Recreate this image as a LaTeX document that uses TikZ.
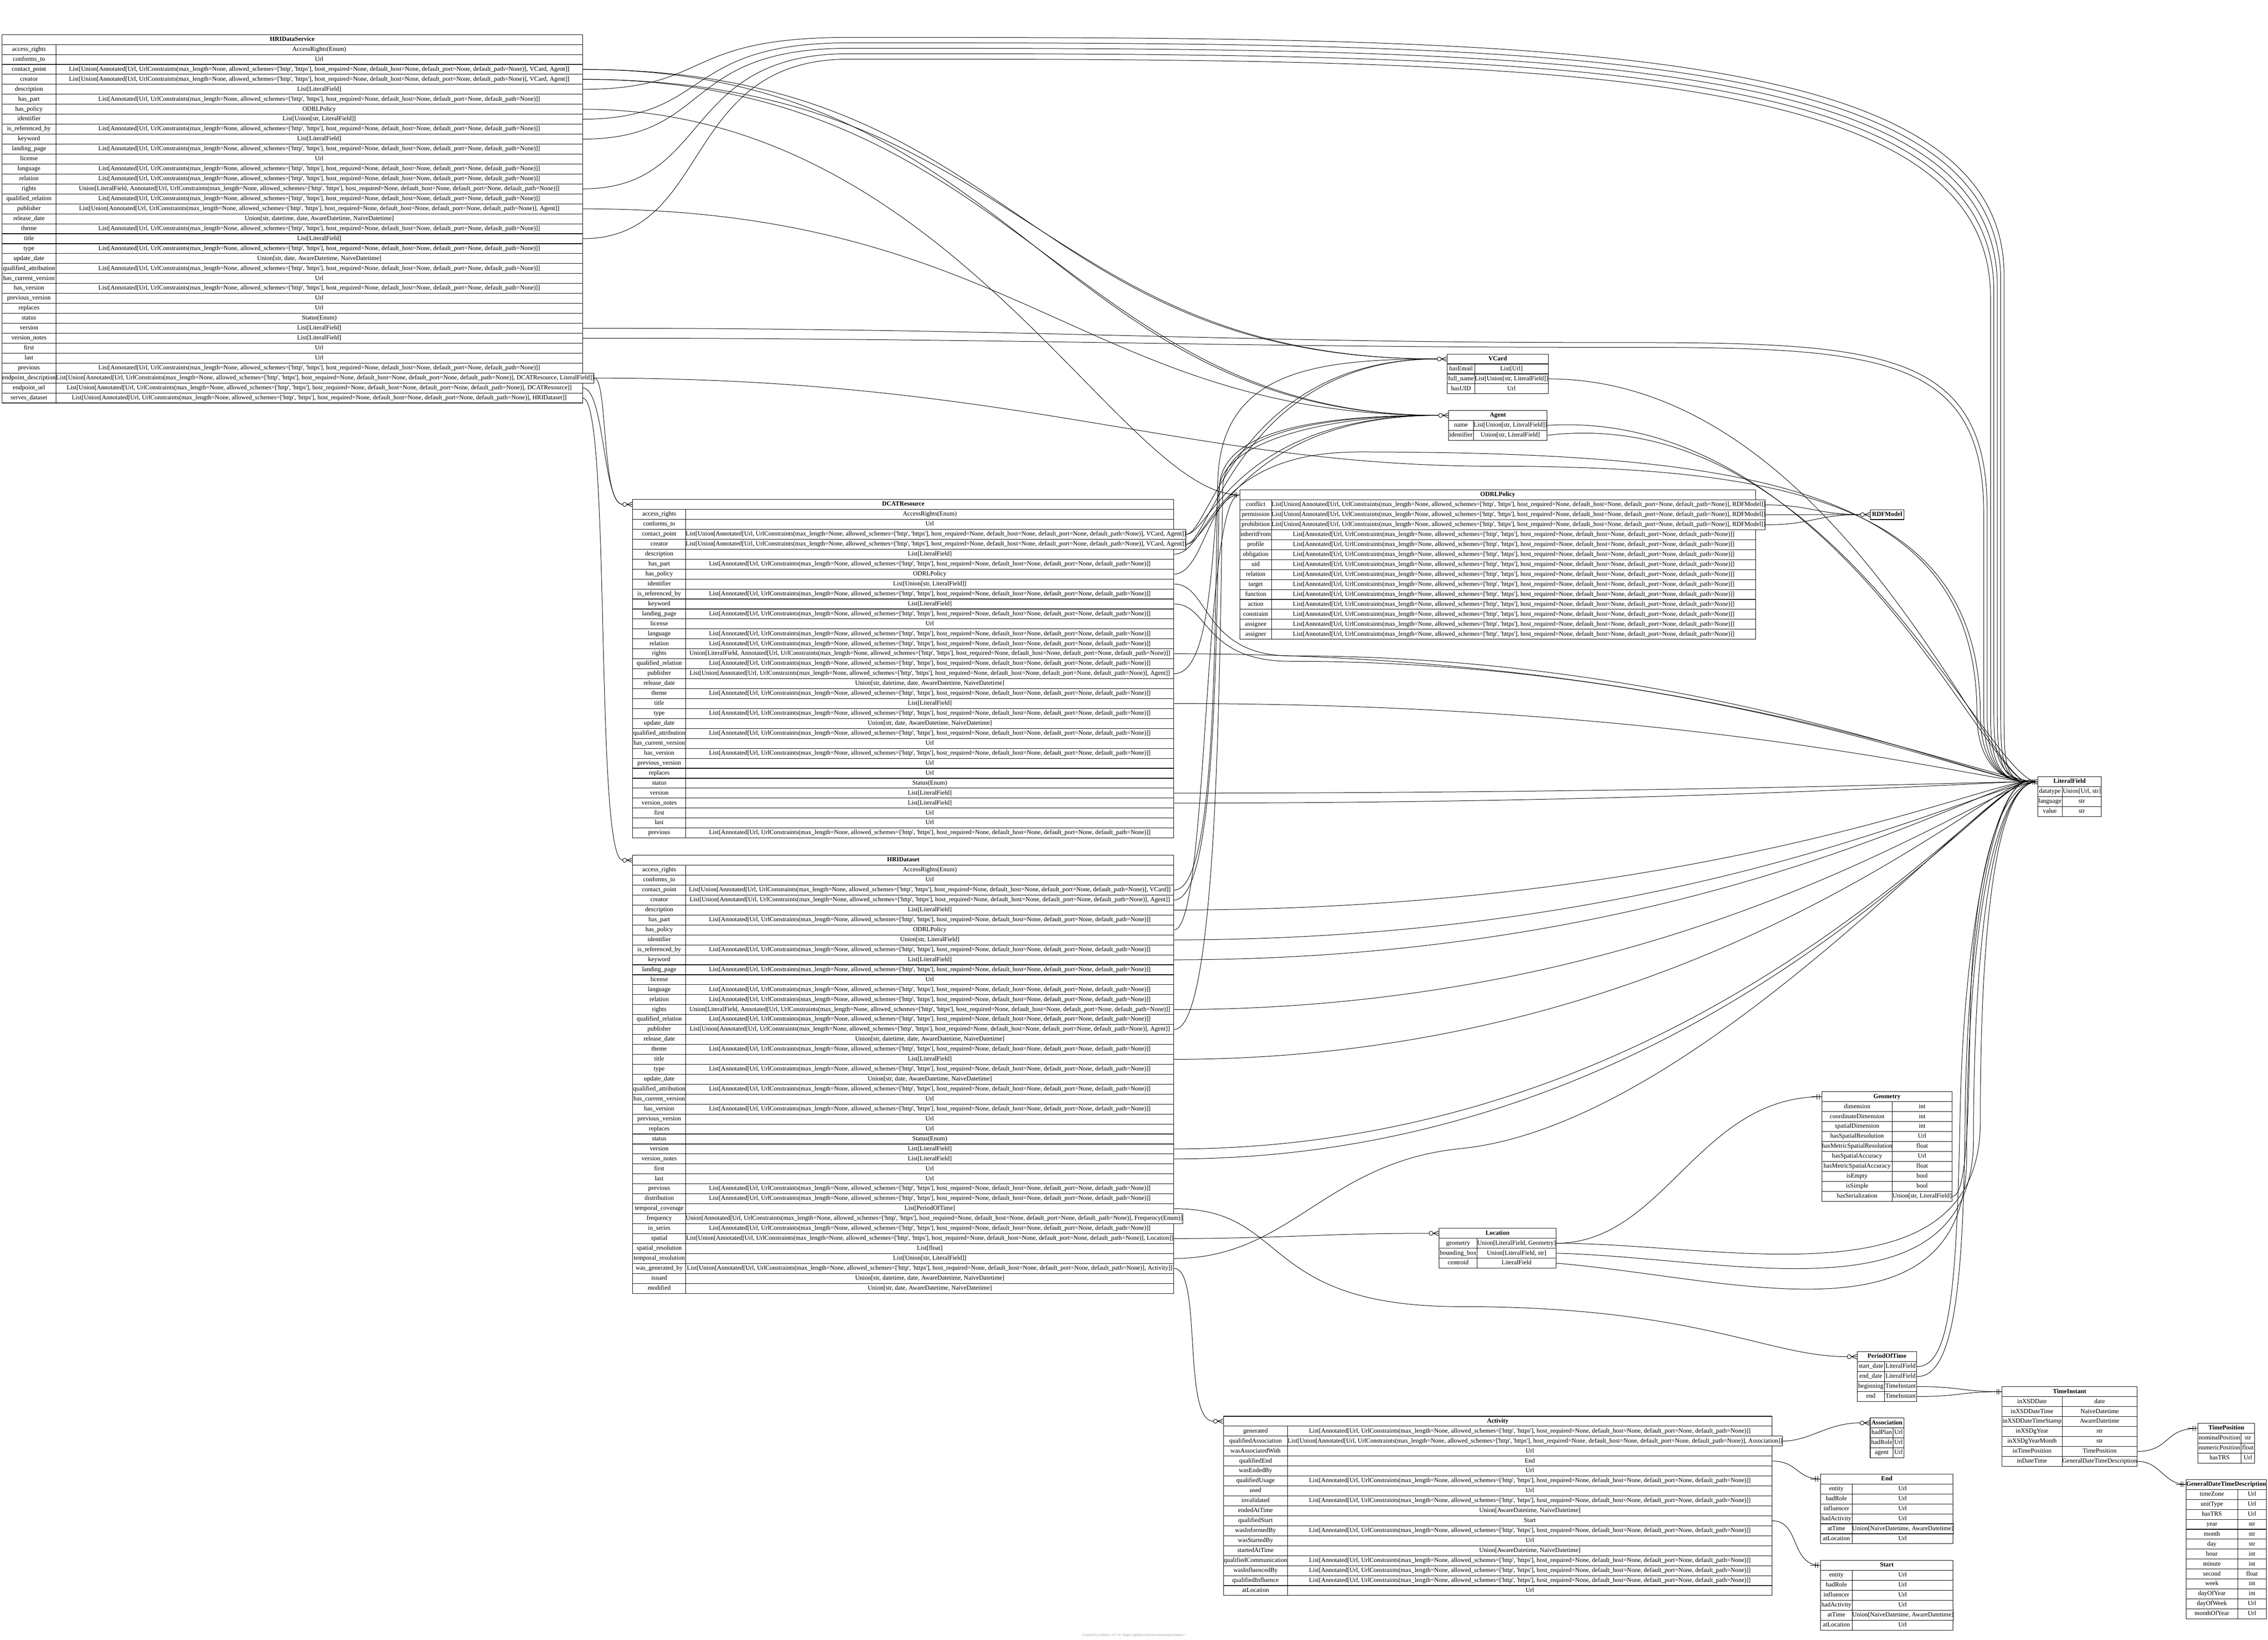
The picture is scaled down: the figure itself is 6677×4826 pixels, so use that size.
\documentclass[tikz,border=0pt]{standalone}
\usepackage{fontspec}
\setmainfont{Liberation Serif}
\pgfdeclarelayer{background}
\pgfsetlayers{background,main}

\newcommand\urlc{Annotated[Url, UrlConstraints(max\_length=None, allowed\_schemes=[\textquotesingle http\textquotesingle, \textquotesingle https\textquotesingle], host\_required=None, default\_host=None, default\_port=None, default\_path=None)]}

\newcommand\mktable[6]{%
  \def\tN{#1}\def\tL{#2}\def\tD{#3}\def\tR{#4}\def\tT{#5}%
  \pgfmathsetmacro\tW{(#4-#2)*0.75}%
  \node[hdr, minimum width=\tW pt, anchor=north west] (#1) at (#2,#5) {#6};}
\newcommand\tabrows[2]{%
  \pgfmathsetmacro\kW{(\tD-\tL)*0.75}%
  \pgfmathsetmacro\vW{(\tR-\tD)*0.75}%
  \foreach \k/\v [count=\i from #1] in #2 {%
    \pgfmathsetmacro\yy{\tT+\i*29.3}%
    \node[cell, minimum width=\kW pt, anchor=north west] (\tN-k\i) at (\tL,\yy) {\k};%
    \node[cell, minimum width=\vW pt, anchor=north west] (\tN-\i) at (\tD,\yy) {\v};}}

\def\grpA{access\_rights/{AccessRights(Enum)}, conforms\_to/{Url}}
\def\grpBa{contact\_point/{List[Union[\urlc, VCard, Agent]]}, creator/{List[Union[\urlc, VCard, Agent]]}}
\def\grpBb{contact\_point/{List[Union[\urlc, VCard]]}, creator/{List[Union[\urlc, Agent]]}}
\def\grpC{description/{List[LiteralField]}, has\_part/{List[\urlc]}, has\_policy/{ODRLPolicy}}
\def\grpDa{identifier/{List[Union[str, LiteralField]]}}
\def\grpDb{identifier/{Union[str, LiteralField]}}
\def\grpE{is\_referenced\_by/{List[\urlc]}, keyword/{List[LiteralField]}, landing\_page/{List[\urlc]}, license/{Url}, language/{List[\urlc]}, relation/{List[\urlc]}, rights/{Union[LiteralField, \urlc]}, qualified\_relation/{List[\urlc]}}
\def\grpF{publisher/{List[Union[\urlc, Agent]]}, release\_date/{Union[str, datetime, date, AwareDatetime, NaiveDatetime]}, theme/{List[\urlc]}, title/{List[LiteralField]}, type/{List[\urlc]}, update\_date/{Union[str, date, AwareDatetime, NaiveDatetime]}, qualified\_attribution/{List[\urlc]}, has\_current\_version/{Url}, has\_version/{List[\urlc]}, previous\_version/{Url}, replaces/{Url}, status/{Status(Enum)}, version/{List[LiteralField]}, version\_notes/{List[LiteralField]}, first/{Url}, last/{Url}, previous/{List[\urlc]}}
\def\grpG{endpoint\_description/{List[Union[\urlc, DCATResource, LiteralField]]}, endpoint\_url/{List[Union[\urlc, DCATResource]]}, serves\_dataset/{List[Union[\urlc, HRIDataset]]}}
\def\grpH{distribution/{List[\urlc]}, temporal\_coverage/{List[PeriodOfTime]}, frequency/{Union[\urlc, Frequency(Enum)]}, in\_series/{List[\urlc]}, spatial/{List[Union[\urlc, Location]]}, spatial\_resolution/{List[float]}, temporal\_resolution/{List[Union[str, LiteralField]]}, was\_generated\_by/{List[Union[\urlc, Activity]]}, issued/{Union[str, datetime, date, AwareDatetime, NaiveDatetime]}, modified/{Union[str, date, AwareDatetime, NaiveDatetime]}}
\def\odrlrows{conflict/{List[Union[\urlc, RDFModel]]}, permission/{List[Union[\urlc, RDFModel]]}, prohibition/{List[Union[\urlc, RDFModel]]}, inheritFrom/{List[\urlc]}, profile/{List[\urlc]}, obligation/{List[\urlc]}, uid/{List[\urlc]}, relation/{List[\urlc]}, target/{List[\urlc]}, function/{List[\urlc]}, action/{List[\urlc]}, constraint/{List[\urlc]}, assignee/{List[\urlc]}, assigner/{List[\urlc]}}
\def\vcardrows{hasEmail/{List[Url]}, full\_name/{List[Union[str, LiteralField]]}, hasUID/{Url}}
\def\agentrows{name/{List[Union[str, LiteralField]]}, identifier/{Union[str, LiteralField]}}
\def\lfrows{datatype/{Union[Url, str]}, language/{str}, value/{str}}
\def\geomrows{dimension/{int}, coordinateDimension/{int}, spatialDimension/{int}, hasSpatialResolution/{Url}, hasMetricSpatialResolution/{float}, hasSpatialAccuracy/{Url}, hasMetricSpatialAccuracy/{float}, isEmpty/{bool}, isSimple/{bool}, hasSerialization/{Union[str, LiteralField]}}
\def\locrows{geometry/{Union[LiteralField, Geometry]}, bounding\_box/{Union[LiteralField, str]}, centroid/{LiteralField}}
\def\potrows{start\_date/{LiteralField}, end\_date/{LiteralField}, beginning/{TimeInstant}, end/{TimeInstant}}
\def\tirows{inXSDDate/{date}, inXSDDateTime/{NaiveDatetime}, inXSDDateTimeStamp/{AwareDatetime}, inXSDgYear/{str}, inXSDgYearMonth/{str}, inTimePosition/{TimePosition}, inDateTime/{GeneralDateTimeDescription}}
\def\tprows{nominalPosition/{str}, numericPosition/{float}, hasTRS/{Url}}
\def\gdtdrows{timeZone/{Url}, unitType/{Url}, hasTRS/{Url}, year/{str}, month/{str}, day/{str}, hour/{int}, minute/{int}, second/{float}, week/{int}, dayOfYear/{int}, dayOfWeek/{Url}, monthOfYear/{Url}}
\def\actrows{generated/{List[\urlc]}, qualifiedAssociation/{List[Union[\urlc, Association]]}, wasAssociatedWith/{Url}, qualifiedEnd/{End}, wasEndedBy/{Url}, qualifiedUsage/{List[\urlc]}, used/{Url}, invalidated/{List[\urlc]}, endedAtTime/{Union[AwareDatetime, NaiveDatetime]}, qualifiedStart/{Start}, wasInformedBy/{List[\urlc]}, wasStartedBy/{Url}, startedAtTime/{Union[AwareDatetime, NaiveDatetime]}, qualifiedCommunication/{List[\urlc]}, wasInfluencedBy/{List[\urlc]}, qualifiedInfluence/{List[\urlc]}, atLocation/{Url}}
\def\assocrows{hadPlan/{Url}, hadRole/{Url}, agent/{Url}}
\def\inflrows{entity/{Url}, hadRole/{Url}, influencer/{Url}, hadActivity/{Url}, atTime/{Union[NaiveDatetime, AwareDatetime]}, atLocation/{Url}}

\tikzset{
  cell/.style={draw, line width=1.1pt, fill=white, inner sep=0pt, minimum height=21.975pt,
    text height=9.6pt, text depth=3pt, font=\fontsize{14}{16}\selectfont},
  hdr/.style={cell, font=\fontsize{14}{16}\selectfont\bfseries},
  conn/.style={line width=1pt},
  tomany/.style={shorten >=21.75pt},
  mk/.style={line width=1pt},
  many/.pic={\draw[mk] (-23,0) circle[radius=6];
             \draw[mk] (-17,0) -- (0,0) (-17,0) -- (0,-7) (-17,0) -- (0,7);},
  one/.pic={\draw[mk] (-29,0) -- (0,0) (-8,-8) -- (-8,8) (-14,-8) -- (-14,8);}
}

\begin{document}
\begin{tikzpicture}[x=0.75pt, y=-0.75pt]
\useasboundingbox (0,0) rectangle (6677,4826);

% ---------------- tables ----------------
\mktable{hds}{5}{164}{1714}{101}{HRIDataService}
\tabrows{1}{\grpA}\tabrows{3}{\grpBa}\tabrows{5}{\grpC}\tabrows{8}{\grpDa}
\tabrows{9}{\grpE}\tabrows{17}{\grpF}\tabrows{34}{\grpG}

\mktable{dcat}{1862}{2018}{3455}{1469}{DCATResource}
\tabrows{1}{\grpA}\tabrows{3}{\grpBa}\tabrows{5}{\grpC}\tabrows{8}{\grpDa}
\tabrows{9}{\grpE}\tabrows{17}{\grpF}

\mktable{hrid}{1862}{2018}{3455}{2516}{HRIDataset}
\tabrows{1}{\grpA}\tabrows{3}{\grpBb}\tabrows{5}{\grpC}\tabrows{8}{\grpDb}
\tabrows{9}{\grpE}\tabrows{17}{\grpF}\tabrows{34}{\grpH}

\mktable{vcard}{4260}{4341}{4557}{1041}{VCard}\tabrows{1}{\vcardrows}
\mktable{agent}{4264}{4337}{4554}{1207}{Agent}\tabrows{1}{\agentrows}
\mktable{odrl}{3649}{3743}{5168}{1441}{ODRLPolicy}\tabrows{1}{\odrlrows}
\mktable{rdf}{5506}{5555}{5604}{1499}{RDFModel}
\mktable{lf}{5998}{6070}{6186}{2285}{LiteralField}\tabrows{1}{\lfrows}
\mktable{geom}{5363}{5570}{5746}{3212}{Geometry}\tabrows{1}{\geomrows}
\mktable{loc}{4236}{4348}{4580}{3614}{Location}\tabrows{1}{\locrows}
\mktable{pot}{5467}{5547}{5642}{3977}{PeriodOfTime}\tabrows{1}{\potrows}
\mktable{ti}{5893}{6070}{6291}{4080}{TimeInstant}\tabrows{1}{\tirows}
\mktable{tp}{6470}{6597}{6637}{4188}{TimePosition}\tabrows{1}{\tprows}
\mktable{gdtd}{6435}{6587}{6671}{4353}{GeneralDateTimeDescription}\tabrows{1}{\gdtdrows}
\mktable{act}{3601}{3790}{5216}{4167}{Activity}\tabrows{1}{\actrows}
\mktable{assoc}{5505}{5573}{5604}{4172}{Association}\tabrows{1}{\assocrows}
\mktable{endt}{5359}{5452}{5749}{4337}{End}\tabrows{1}{\inflrows}
\mktable{startt}{5359}{5452}{5749}{4591}{Start}\tabrows{1}{\inflrows}

\node[font=\fontsize{8}{10}\selectfont, text=black!40, inner sep=0pt] (credit) at (3338,4812)
  {Created by erdantic v0.7.0 <https://github.com/drivendataorg/erdantic>};

% ---------------- connectors ----------------
\begin{pgfonlayer}{background}
\fill[white] (0,0) rectangle (6677,4826);

% HRIDataService
\draw[conn,tomany] (hds-3.east) .. controls (3000,204) and (3000,1056) .. (vcard.west);
\draw[conn,tomany] (hds-4.east) .. controls (3000,233) and (3050,1056) .. (vcard.west);
\draw[conn,tomany] (hds-3.east) .. controls (3000,204) and (3100,1222) .. (agent.west);
\draw[conn,tomany] (hds-4.east) .. controls (3000,233) and (3150,1222) .. (agent.west);
\draw[conn,tomany] (hds-17.east) .. controls (3000,614) and (3200,1222) .. (agent.west);
\draw[conn] (hds-7.east) .. controls (2800,321) and (3300,1456) .. (odrl.west);
\draw[conn,tomany] (hds-34.east) .. controls (1790,1112) and (1770,1484) .. (dcat.west);
\draw[conn,tomany] (hds-35.east) .. controls (1780,1141) and (1775,1484) .. (dcat.west);
\draw[conn,tomany] (hds-36.east) .. controls (1800,1171) and (1750,2531) .. (hrid.west);
\draw[conn,tomany] (hds-5.east) .. controls (2100,262) and (2000,110) .. (2500,110) .. controls (4500,110) and (5900,110) .. (5900,810) -- (5900,2100) .. controls (5900,2230) and (5900,2300) .. (lf.west);
\draw[conn,tomany] (hds-8.east) .. controls (2100,350) and (2000,126) .. (2500,126) .. controls (4500,126) and (5890,126) .. (5890,826) -- (5890,2100) .. controls (5890,2230) and (5895,2300) .. (lf.west);
\draw[conn,tomany] (hds-10.east) .. controls (2100,409) and (2000,142) .. (2500,142) .. controls (4500,142) and (5880,142) .. (5880,842) -- (5880,2100) .. controls (5880,2230) and (5890,2300) .. (lf.west);
\draw[conn] (hds-15.east) .. controls (2100,555) and (2000,158) .. (2500,158) .. controls (4500,158) and (5870,158) .. (5870,858) -- (5870,2100) .. controls (5870,2230) and (5885,2300) .. (lf.west);
\draw[conn,tomany] (hds-20.east) .. controls (2100,702) and (2000,174) .. (2500,174) .. controls (4500,174) and (5860,174) .. (5860,874) -- (5860,2100) .. controls (5860,2230) and (5880,2300) .. (lf.west);
\draw[conn,tomany] (hds-29.east) .. controls (3000,965) and (3600,1008) .. (4700,1008) .. controls (5500,1008) and (5850,1008) .. (5850,1500) -- (5850,2100) .. controls (5850,2230) and (5880,2300) .. (lf.west);
\draw[conn,tomany] (hds-30.east) .. controls (3000,995) and (3600,1022) .. (4700,1022) .. controls (5500,1022) and (5840,1022) .. (5840,1510) -- (5840,2100) .. controls (5840,2230) and (5880,2300) .. (lf.west);
\draw[conn,tomany] (hds-34.east) .. controls (3000,1112) and (3500,1372) .. (4400,1372) .. controls (5300,1372) and (5830,1500) .. (5830,2100) .. controls (5830,2230) and (5880,2300) .. (lf.west);

% DCATResource
\draw[conn,tomany] (dcat-3.east) .. controls (3560,1572) and (3650,1056) .. (vcard.west);
\draw[conn,tomany] (dcat-4.east) .. controls (3560,1601) and (3660,1056) .. (vcard.west);
\draw[conn,tomany] (dcat-3.east) .. controls (3560,1572) and (3640,1222) .. (agent.west);
\draw[conn,tomany] (dcat-4.east) .. controls (3560,1601) and (3650,1222) .. (agent.west);
\draw[conn,tomany] (dcat-17.east) .. controls (3570,1982) and (3565,1600) .. (3590,1430) .. controls (3610,1300) and (3900,1222) .. (agent.west);
\draw[conn] (dcat-7.east) .. controls (3540,1689) and (3560,1456) .. (odrl.west);
\draw[conn,tomany] (dcat-5.east) .. controls (3560,1630) and (3550,1330) .. (4000,1330) .. controls (5200,1330) and (5820,1450) .. (5820,2100) .. controls (5820,2230) and (5880,2300) .. (lf.west);
\draw[conn,tomany] (dcat-8.east) .. controls (3560,1718) and (3540,1930) .. (3800,1930) .. controls (5000,1930) and (5850,2300) .. (lf.west);
\draw[conn,tomany] (dcat-10.east) .. controls (3560,1777) and (3540,1946) .. (3800,1946) .. controls (5000,1946) and (5850,2300) .. (lf.west);
\draw[conn] (dcat-15.east) .. controls (5000,1923) and (5850,2300) .. (lf.west);
\draw[conn,tomany] (dcat-20.east) .. controls (5000,2070) and (5850,2300) .. (lf.west);
\draw[conn,tomany] (dcat-29.east) .. controls (5000,2333) and (5850,2300) .. (lf.west);
\draw[conn,tomany] (dcat-30.east) .. controls (5000,2363) and (5850,2300) .. (lf.west);

% HRIDataset
\draw[conn,tomany] (hrid-3.east) .. controls (3580,2619) and (3575,1900) .. (3585,1420) .. controls (3592,1100) and (3850,1056) .. (vcard.west);
\draw[conn,tomany] (hrid-4.east) .. controls (3580,2648) and (3580,1900) .. (3590,1430) .. controls (3600,1260) and (3900,1222) .. (agent.west);
\draw[conn,tomany] (hrid-17.east) .. controls (3590,3029) and (3590,1900) .. (3600,1430) .. controls (3610,1270) and (3900,1222) .. (agent.west);
\draw[conn] (hrid-7.east) .. controls (3560,2736) and (3540,1456) .. (odrl.west);
\draw[conn,tomany] (hrid-5.east) .. controls (5000,2677) and (5850,2300) .. (lf.west);
\draw[conn] (hrid-8.east) .. controls (5000,2765) and (5850,2300) .. (lf.west);
\draw[conn,tomany] (hrid-10.east) .. controls (5000,2824) and (5850,2300) .. (lf.west);
\draw[conn] (hrid-15.east) .. controls (5000,2970) and (5850,2300) .. (lf.west);
\draw[conn,tomany] (hrid-20.east) .. controls (5000,3117) and (5850,2300) .. (lf.west);
\draw[conn,tomany] (hrid-29.east) .. controls (5000,3380) and (5850,2300) .. (lf.west);
\draw[conn,tomany] (hrid-30.east) .. controls (5000,3410) and (5850,2300) .. (lf.west);
\draw[conn,tomany] (hrid-40.east) .. controls (3800,3703) and (3900,3420) .. (4300,3380) .. controls (5000,3310) and (5850,2300) .. (lf.west);
\draw[conn,tomany] (hrid-35.east) .. controls (3800,3556) and (3700,3845) .. (4300,3845) .. controls (5000,3845) and (5200,3992) .. (pot.west);
\draw[conn,tomany] (hrid-38.east) .. controls (3800,3644) and (3900,3629) .. (loc.west);
\draw[conn,tomany] (hrid-41.east) .. controls (3540,3732) and (3480,4182) .. (act.west);

% VCard, Agent, ODRLPolicy
\draw[conn,tomany] (vcard-2.east) .. controls (5400,1115) and (5850,2300) .. (lf.west);
\draw[conn,tomany] (agent-1.east) .. controls (5400,1200) and (5850,2300) .. (lf.west);
\draw[conn] (agent-2.east) .. controls (5400,1180) and (5850,2300) .. (lf.west);
\draw[conn,tomany] (odrl-1.east) .. controls (5330,1486) and (5350,1514) .. (rdf.west);
\draw[conn,tomany] (odrl-2.east) .. controls (5330,1515) and (5350,1514) .. (rdf.west);
\draw[conn,tomany] (odrl-3.east) .. controls (5330,1545) and (5350,1514) .. (rdf.west);

% Geometry, Location, PeriodOfTime
\draw[conn] (geom-10.east) .. controls (5790,3521) and (5795,3300) .. (5800,3000) .. controls (5805,2600) and (5880,2300) .. (lf.west);
\draw[conn] (loc-1.east) .. controls (4900,3658) and (5000,3227) .. (geom.west);
\draw[conn] (loc-1.east) .. controls (5074,3658) and (5830,3850) .. (5830,3300) .. controls (5830,2700) and (5880,2300) .. (lf.west);
\draw[conn] (loc-2.east) .. controls (5100,3700) and (5810,3900) .. (5810,3350) .. controls (5810,2700) and (5880,2300) .. (lf.west);
\draw[conn] (loc-3.east) .. controls (5100,3760) and (5790,3980) .. (5790,3400) .. controls (5790,2700) and (5880,2300) .. (lf.west);
\draw[conn,tomany] (pot-1.east) .. controls (5740,4022) and (5760,3800) .. (5770,3300) .. controls (5780,2700) and (5880,2300) .. (lf.west);
\draw[conn,tomany] (pot-2.east) .. controls (5750,4051) and (5780,3800) .. (5785,3300) .. controls (5790,2700) and (5880,2300) .. (lf.west);
\draw[conn] (pot-3.east) .. controls (5770,4080) and (5770,4095) .. (ti.west);
\draw[conn] (pot-4.east) .. controls (5770,4110) and (5770,4095) .. (ti.west);

% TimeInstant, Activity
\draw[conn] (ti-6.east) .. controls (6390,4270) and (6370,4203) .. (tp.west);
\draw[conn] (ti-7.east) .. controls (6360,4300) and (6370,4368) .. (gdtd.west);
\draw[conn,tomany] (act-2.east) .. controls (5330,4240) and (5380,4187) .. (assoc.west);
\draw[conn] (act-4.east) .. controls (5290,4299) and (5290,4352) .. (endt.west);
\draw[conn] (act-10.east) .. controls (5300,4475) and (5270,4606) .. (startt.west);
\end{pgfonlayer}

% ---------------- end markers ----------------
\foreach \t in {vcard,agent,rdf,lf,dcat,hrid,loc,pot,act,assoc} \pic at (\t.west) {many};
\foreach \t in {odrl,lf,geom,ti,tp,gdtd,endt,startt} \pic at (\t.west) {one};
\end{tikzpicture}
\end{document}
